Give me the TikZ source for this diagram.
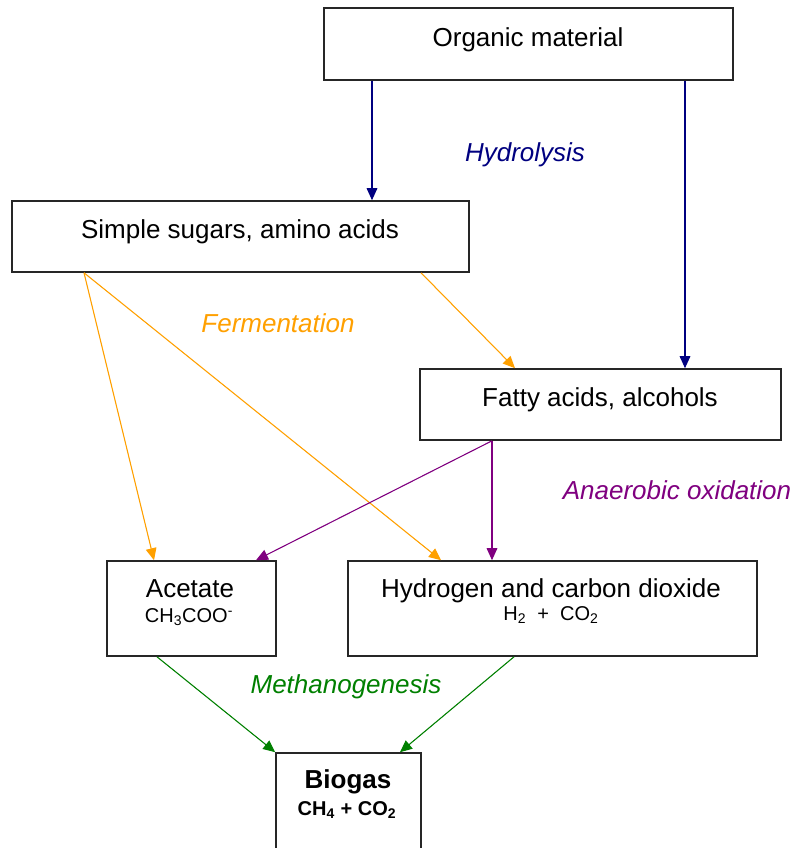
\documentclass[tikz,border=0pt]{standalone}
\usepackage{fontspec}
\setmainfont{Liberation Sans}
\usetikzlibrary{arrows.meta,fit}
\definecolor{hydc}{RGB}{0,0,128}
\definecolor{ferc}{RGB}{255,160,0}
\definecolor{anac}{RGB}{128,0,128}
\definecolor{metc}{RGB}{0,128,0}
\begin{document}
\begin{tikzpicture}[x=0.75pt,y=-0.75pt,
  box/.style={draw=black!85,line width=1.2pt,inner sep=0pt,fill=white},
  txt/.style={anchor=base,inner sep=0pt,font=\fontsize{19.5pt}{23pt}\selectfont},
  small/.style={anchor=base,inner sep=0pt,font=\fontsize{15pt}{17pt}\selectfont},
  lab/.style={anchor=base,inner sep=0pt,font=\fontsize{19.5pt}{23pt}\selectfont\itshape},
  arr/.style={line width=0.8pt,-{Triangle[length=9pt,width=8pt]}},
  hyd/.style={arr,draw=hydc,fill=hydc},
  fer/.style={arr,draw=ferc,fill=ferc},
  ana/.style={arr,draw=anac,fill=anac},
  met/.style={arr,draw=metc,fill=metc}]
\useasboundingbox (0,0) rectangle (793,848);
\clip (0,0) rectangle (793,848);
\fill[white] (0,0) rectangle (793,848);
% boxes
\node[box,fit={(324,8) (733,80)}] (organic) {};
\node[box,fit={(12,201) (469,272)}] (sugars) {};
\node[box,fit={(420,369) (781,440)}] (fatty) {};
\node[box,fit={(107,561) (276,656)}] (acetate) {};
\node[box,fit={(348,561) (757,656)}] (hydrogen) {};
\node[box,fit={(276,753) (421,870)}] (biogas) {};
% texts
\node[txt] (organic-t) at (528,47) {Organic material};
\node[txt] (sugars-t) at (240,239) {Simple sugars, amino acids};
\node[txt] (fatty-t) at (600,406) {Fatty acids, alcohols};
\node[txt] (acetate-t) at (190,597) {Acetate};
\node[small] (acetate-f) at (189,622) {CH\textsubscript{3}COO\textsuperscript{-}};
\node[txt] (hydrogen-t) at (551,597) {Hydrogen and carbon dioxide};
\node[small] (hydrogen-f) at (551,620) {H\textsubscript{2}\ \ +\ \ CO\textsubscript{2}};
\node[txt,font=\fontsize{19.5pt}{23pt}\selectfont\bfseries] (biogas-t) at (348,788) {Biogas};
\node[small,font=\fontsize{15pt}{17pt}\selectfont\bfseries] (biogas-f) at (347,815) {CH\textsubscript{4} + CO\textsubscript{2}};
% stage labels
\node[lab,text=hydc] (l-hyd) at (525,162) {Hydrolysis};
\node[lab,text=ferc] (l-fer) at (278,332) {Fermentation};
\node[lab,text=anac] (l-ana) at (677,499) {Anaerobic oxidation};
\node[lab,text=metc] (l-met) at (346,693) {Methanogenesis};
% connectors
\draw[hyd] (organic.south -| 372,0) -- (sugars.north -| 372,0);
\draw[hyd] (organic.south -| 685,0) -- (fatty.north -| 685,0);
\draw[fer] (sugars.south -| 84,0) -- (acetate.north -| 154,0);
\draw[fer] (sugars.south -| 84,0) -- (hydrogen.north -| 441,0);
\draw[fer] (sugars.south -| 421,0) -- (fatty.north -| 515,0);
\draw[ana] (fatty.south -| 492,0) -- (acetate.north -| 256,0);
\draw[ana] (fatty.south -| 492,0) -- (hydrogen.north -| 492,0);
\draw[met] (acetate.south -| 157,0) -- (biogas.north west);
\draw[met] (hydrogen.south -| 514,0) -- (biogas.north -| 400,0);
\end{tikzpicture}
\end{document}
